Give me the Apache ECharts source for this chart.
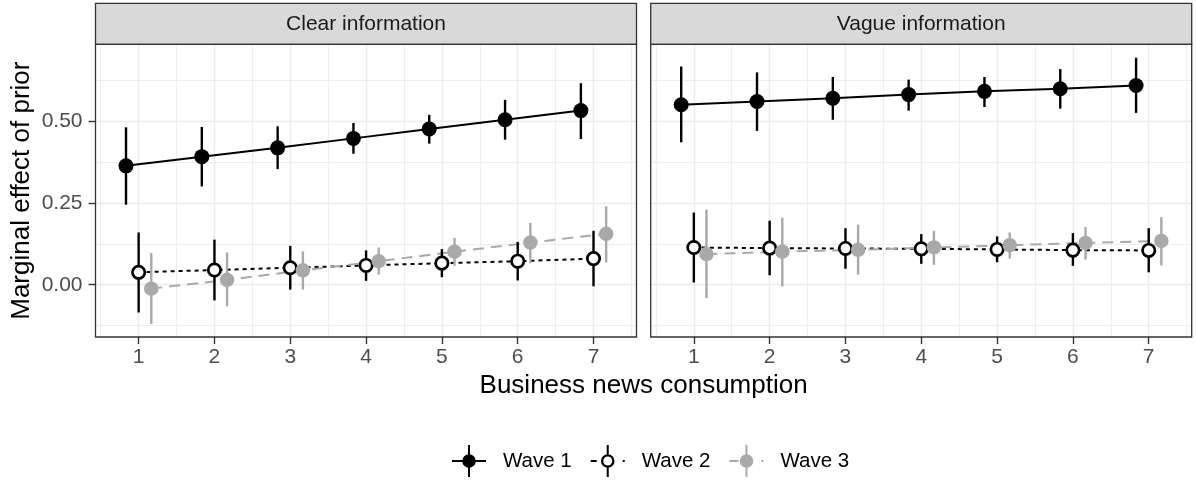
<!DOCTYPE html>
<html><head><meta charset="utf-8">
<script src="https://cdn.jsdelivr.net/npm/echarts@6/dist/echarts.min.js"></script>
<style>html,body{margin:0;padding:0;background:#fff}#c{width:1196px;height:481px}</style>
</head><body><div id="c"></div><script>
// ---------- data ----------
const categories = [1, 2, 3, 4, 5, 6, 7];
const xMinorTicks = [0.5, 1.5, 2.5, 3.5, 4.5, 5.5, 6.5, 7.5];
const yTicks = [0, 0.25, 0.5];
const yMinorTicks = [-0.125, 0.125, 0.375, 0.625];
const panelTitles = ['Clear information', 'Vague information'];
const waveNames = ['Wave 1', 'Wave 2', 'Wave 3'];

// Clear information
const clearW1 = [0.364, 0.392, 0.419, 0.448, 0.477, 0.505, 0.533];
const clearW1Lo = [0.245, 0.301, 0.354, 0.401, 0.432, 0.444, 0.446];
const clearW1Hi = [0.482, 0.483, 0.485, 0.495, 0.520, 0.566, 0.617];
const clearW2 = [0.038, 0.045, 0.052, 0.059, 0.066, 0.072, 0.080];
const clearW2Lo = [-0.085, -0.048, -0.015, 0.012, 0.023, 0.013, -0.005];
const clearW2Hi = [0.160, 0.138, 0.119, 0.105, 0.109, 0.131, 0.165];
const clearW3 = [-0.012, 0.015, 0.044, 0.072, 0.101, 0.129, 0.156];
const clearW3Lo = [-0.120, -0.066, -0.015, 0.031, 0.058, 0.066, 0.068];
const clearW3Hi = [0.097, 0.099, 0.102, 0.114, 0.143, 0.189, 0.240];

// Vague information
const vagueW1 = [0.551, 0.561, 0.571, 0.582, 0.592, 0.600, 0.610];
const vagueW1Lo = [0.436, 0.471, 0.505, 0.533, 0.544, 0.539, 0.526];
const vagueW1Hi = [0.668, 0.650, 0.636, 0.628, 0.636, 0.660, 0.695];
const vagueW2 = [0.114, 0.112, 0.111, 0.110, 0.108, 0.106, 0.105];
const vagueW2Lo = [0.007, 0.029, 0.049, 0.064, 0.069, 0.058, 0.038];
const vagueW2Hi = [0.221, 0.196, 0.173, 0.155, 0.148, 0.158, 0.173];
const vagueW3 = [0.094, 0.101, 0.107, 0.114, 0.121, 0.128, 0.134];
const vagueW3Lo = [-0.041, -0.005, 0.031, 0.061, 0.080, 0.077, 0.059];
const vagueW3Hi = [0.230, 0.205, 0.184, 0.165, 0.160, 0.177, 0.207];

// ---------- layout / style ----------
const FONT = '"Liberation Sans", Arial, Helvetica, sans-serif';
const X_MIN = 0.431, X_MAX = 7.567, Y_MIN = -0.160, Y_MAX = 0.736;
const DODGE = [-1 / 6, 0, 1 / 6];
const grids = [
  { left: 95.5, top: 44.3, width: 541, height: 292.7 },
  { left: 650.7, top: 44.3, width: 541, height: 292.7 }
];
const panelData = [
  [[clearW1, clearW1Lo, clearW1Hi], [clearW2, clearW2Lo, clearW2Hi], [clearW3, clearW3Lo, clearW3Hi]],
  [[vagueW1, vagueW1Lo, vagueW1Hi], [vagueW2, vagueW2Lo, vagueW2Hi], [vagueW3, vagueW3Lo, vagueW3Hi]]
];
const waveStyle = [
  { line: '#000', lineType: 'solid', bar: '#000', sym: 15, fill: '#000', border: '#000', bw: 0 },
  { line: '#000', lineType: [4, 4], bar: '#000', sym: 12.4, fill: '#fff', border: '#000', bw: 2.7 },
  { line: '#A9A9A9', lineType: [11, 7], bar: '#A9A9A9', sym: 14.5, fill: '#A9A9A9', border: '#A9A9A9', bw: 0 }
];
const legendIcons = [
  'path://M0 15H34V17H0Z M16 0H18V32H16Z M10.2 16A6.8 6.8 0 1 1 23.8 16A6.8 6.8 0 1 1 10.2 16Z',
  'path://M0 15H6V17H0Z M32 15H34V17H32Z M16 0H18V9.2H16Z M16 22.8H18V32H16Z M10.2 16A6.8 6.8 0 1 1 23.8 16A6.8 6.8 0 1 1 10.2 16Z M12.5 16A4.5 4.5 0 1 0 21.5 16A4.5 4.5 0 1 0 12.5 16Z',
  'path://M0 15H9V17H0Z M32 15H34V17H32Z M16 0H18V32H16Z M10.2 16A6.8 6.8 0 1 1 23.8 16A6.8 6.8 0 1 1 10.2 16Z'
];

const xAxes = [], yAxes = [], series = [], graphics = [];
grids.forEach((g, p) => {
  xAxes.push({
    type: 'value', gridIndex: p, min: X_MIN, max: X_MAX, position: 'bottom',
    axisLine: { show: false, onZero: false },
    axisTick: { show: true, length: 7, customValues: categories, lineStyle: { color: '#333', width: 1.4 } },
    axisLabel: { customValues: categories, margin: 10, color: '#4D4D4D', fontSize: 21, fontFamily: FONT,
      formatter: v => String(v) },
    splitLine: { show: true, lineStyle: { color: '#EBEBEB', width: 1.4 } }
  });
  xAxes.push({
    type: 'value', gridIndex: p, min: X_MIN, max: X_MAX, position: 'bottom',
    axisLine: { show: false, onZero: false }, axisLabel: { show: false },
    axisTick: { show: false, customValues: xMinorTicks },
    splitLine: { show: true, lineStyle: { color: '#EEEEEE', width: 1 } }
  });
  yAxes.push({
    type: 'value', gridIndex: p, min: Y_MIN, max: Y_MAX, position: 'left',
    name: p === 0 ? 'Marginal effect of prior' : '',
    nameLocation: 'middle', nameGap: 61, nameRotate: 90,
    nameTextStyle: { fontSize: 26, color: '#000', fontFamily: FONT },
    axisLine: { show: false, onZero: false },
    axisTick: { show: p === 0, length: 7, customValues: yTicks, lineStyle: { color: '#333', width: 1.4 } },
    axisLabel: { show: p === 0, customValues: yTicks, margin: 13, color: '#4D4D4D', fontSize: 21, fontFamily: FONT,
      formatter: v => v.toFixed(2) },
    splitLine: { show: true, lineStyle: { color: '#EBEBEB', width: 1.4 } }
  });
  yAxes.push({
    type: 'value', gridIndex: p, min: Y_MIN, max: Y_MAX, position: 'left',
    axisLine: { show: false, onZero: false }, axisLabel: { show: false },
    axisTick: { show: false, customValues: yMinorTicks },
    splitLine: { show: true, lineStyle: { color: '#EEEEEE', width: 1 } }
  });

  const xi = p * 2, yi = p * 2;
  panelData[p].forEach((w, k) => {
    const st = waveStyle[k];
    const [est, lo, hi] = w;
    series.push({
      type: 'line', name: waveNames[k], xAxisIndex: xi, yAxisIndex: yi,
      data: categories.map((c, i) => [c + DODGE[k], est[i]]),
      showSymbol: false, symbol: 'circle', z: 2, silent: true,
      lineStyle: { color: st.line, width: 2, type: st.lineType },
      itemStyle: { color: st.line }
    });
    series.push({
      type: 'custom', name: waveNames[k], xAxisIndex: xi, yAxisIndex: yi, z: 3, silent: true,
      data: categories.map((c, i) => [c + DODGE[k], lo[i], hi[i]]),
      encode: { x: 0, y: [1, 2] },
      renderItem: (params, api) => {
        const a = api.coord([api.value(0), api.value(1)]);
        const b = api.coord([api.value(0), api.value(2)]);
        return { type: 'line', shape: { x1: a[0], y1: a[1], x2: b[0], y2: b[1] },
          style: { stroke: st.bar, lineWidth: 2.4 } };
      }
    });
    series.push({
      type: 'scatter', name: waveNames[k], xAxisIndex: xi, yAxisIndex: yi, z: 4 + k, silent: true,
      data: categories.map((c, i) => [c + DODGE[k], est[i]]),
      symbol: 'circle', symbolSize: st.sym,
      itemStyle: { color: st.fill, borderColor: st.border, borderWidth: st.bw, opacity: 1 }
    });
  });

  graphics.push({
    type: 'rect', z: 10, silent: true,
    shape: { x: g.left, y: 3.3, width: g.width, height: 41 },
    style: { fill: '#D9D9D9', stroke: '#333', lineWidth: 1.3 }
  });
  graphics.push({
    type: 'text', z: 11, silent: true,
    style: { text: panelTitles[p], x: g.left + g.width / 2, y: 24, align: 'center', verticalAlign: 'middle',
      fontSize: 21, fill: '#1A1A1A', fontFamily: FONT }
  });
  graphics.push({
    type: 'rect', z: 10, silent: true,
    shape: { x: g.left, y: g.top, width: g.width, height: g.height },
    style: { fill: 'none', stroke: '#333', lineWidth: 1.3 }
  });
});

graphics.push({
  type: 'text', z: 11, silent: true,
  style: { text: 'Business news consumption', x: (grids[0].left + grids[1].left + grids[1].width) / 2, y: 386,
    align: 'center', verticalAlign: 'middle', fontSize: 26, fill: '#000', fontFamily: FONT }
});

const chart = echarts.init(document.getElementById('c'), null, { renderer: 'canvas' });
chart.setOption({
  animation: false,
  backgroundColor: '#fff',
  grid: grids.map(g => ({ left: g.left, top: g.top, width: g.width, height: g.height, containLabel: false })),
  xAxis: xAxes,
  yAxis: yAxes,
  legend: {
    data: waveNames.map((n, k) => ({
      name: n, icon: legendIcons[k],
      itemStyle: { color: waveStyle[k].bar, borderWidth: 0, opacity: 1 }
    })),
    left: 447, top: 440, itemWidth: 58, itemHeight: 32, itemGap: 19,
    symbolKeepAspect: true, selectedMode: false,
    textStyle: { fontSize: 20.5, color: '#000', fontFamily: FONT }
  },
  series: series,
  graphic: graphics
});
</script></body></html>
